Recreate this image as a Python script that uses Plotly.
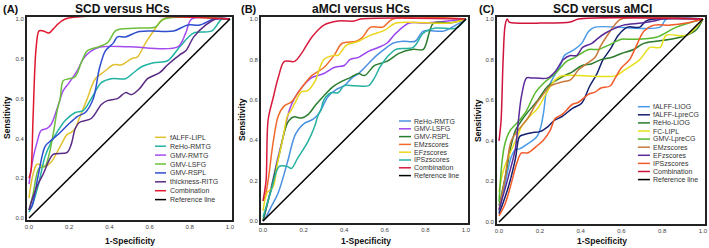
import plotly.graph_objects as go

W, H = 709, 248
FONT = "Liberation Sans, Arial, sans-serif"

# ---------------- Panel A: SCD versus HCs ----------------
A_NAMES = ["fALFF-LIPL", "ReHo-RMTG", "GMV-RMTG", "GMV-LSFG", "GMV-RSPL",
           "thickness-RITG", "Combination", "Reference line"]
A_COLORS = ["#e2c12e", "#22b3a4", "#a34bf0", "#6cbf3a", "#2f4dcf",
            "#5a2a85", "#e0182d", "#000000"]

A_FALFF_FPR = [0, 0.02, 0.04, 0.08, 0.11, 0.15, 0.19, 0.21, 0.23, 0.25, 0.29, 0.33, 0.38, 0.42, 0.46, 0.51, 0.54, 0.58, 0.62, 0.67, 1]
A_FALFF_TPR = [0.10, 0.22, 0.27, 0.26, 0.28, 0.35, 0.42, 0.43, 0.45, 0.50, 0.60, 0.70, 0.74, 0.77, 0.77, 0.80, 0.81, 0.88, 0.94, 1.0, 1.0]

A_REHO_FPR = [0, 0.015, 0.045, 0.08, 0.11, 0.145, 0.18, 0.23, 0.27, 0.31, 0.36, 0.41, 0.48, 0.52, 0.56, 0.62, 0.69, 0.75, 0.82, 0.91, 0.96, 1]
A_REHO_TPR = [0.03, 0.06, 0.16, 0.31, 0.38, 0.44, 0.49, 0.53, 0.54, 0.60, 0.68, 0.70, 0.70, 0.73, 0.76, 0.78, 0.79, 0.86, 0.93, 0.94, 1.0, 1.0]

A_GMVR_FPR = [0, 0.02, 0.04, 0.06, 0.09, 0.11, 0.13, 0.15, 0.17, 0.20, 0.24, 0.27, 0.31, 0.36, 0.5, 0.74, 0.78, 0.81, 1]
A_GMVR_TPR = [0.17, 0.30, 0.38, 0.44, 0.45, 0.47, 0.52, 0.58, 0.64, 0.68, 0.74, 0.80, 0.84, 0.86, 0.86, 0.86, 0.93, 1.0, 1.0]

A_GMVL_FPR = [0, 0.02, 0.05, 0.08, 0.10, 0.12, 0.14, 0.155, 0.17, 0.20, 0.23, 0.26, 0.29, 0.345, 0.39, 0.43, 0.46, 0.55, 0.63, 0.67, 1]
A_GMVL_TPR = [0.04, 0.12, 0.25, 0.26, 0.32, 0.42, 0.54, 0.60, 0.69, 0.70, 0.71, 0.78, 0.84, 0.86, 0.88, 0.94, 0.95, 0.955, 0.96, 1.0, 1.0]

A_GMVS_FPR = [0, 0.015, 0.045, 0.08, 0.11, 0.155, 0.195, 0.24, 0.28, 0.32, 0.35, 0.38, 0.42, 0.44, 0.48, 0.54, 0.60, 0.72, 0.79, 0.85, 0.92, 1]
A_GMVS_TPR = [0.04, 0.06, 0.21, 0.36, 0.39, 0.43, 0.47, 0.51, 0.53, 0.60, 0.75, 0.84, 0.88, 0.91, 0.91, 0.935, 0.94, 0.94, 0.97, 0.97, 1.0, 1.0]

A_THICK_FPR = [0, 0.015, 0.04, 0.07, 0.10, 0.12, 0.19, 0.21, 0.23, 0.25, 0.31, 0.36, 0.39, 0.44, 0.48, 0.51, 0.55, 0.59, 0.65, 0.69, 0.75, 0.78, 0.82, 0.88, 0.93, 1]
A_THICK_TPR = [0.04, 0.09, 0.16, 0.22, 0.29, 0.32, 0.33, 0.37, 0.45, 0.48, 0.50, 0.57, 0.59, 0.60, 0.63, 0.62, 0.65, 0.70, 0.73, 0.77, 0.82, 0.84, 0.91, 0.97, 1.0, 1.0]

A_COMB_FPR = [0, 0.01, 0.02, 0.035, 0.05, 0.07, 0.10, 0.13, 0.18, 1]
A_COMB_TPR = [0.20, 0.24, 0.50, 0.85, 0.94, 0.94, 0.93, 0.96, 1.0, 1.0]

# ---------------- Panel B: aMCI versus HCs ----------------
B_NAMES = ["ReHo-RMTG", "GMV-LSFG", "GMV-RSPL", "EMzscores", "EFzscores",
           "IPSzscores", "Combination", "Reference line"]
B_COLORS = ["#4a90e2", "#9b45f0", "#2a7d2e", "#f26a2a", "#e8d51c",
            "#25b0a0", "#d81b3c", "#000000"]

B_REHO_FPR = [0, 0.015, 0.04, 0.075, 0.12, 0.16, 0.205, 0.24, 0.265, 0.28, 0.32, 0.36, 0.40, 0.44, 0.47, 0.52, 0.56, 0.61, 0.64, 0.69, 0.75, 0.79, 0.89, 0.95, 1]
B_REHO_TPR = [0, 0.02, 0.07, 0.14, 0.29, 0.43, 0.485, 0.50, 0.52, 0.54, 0.615, 0.65, 0.67, 0.71, 0.73, 0.78, 0.82, 0.86, 0.88, 0.89, 0.89, 0.94, 0.94, 0.97, 1.0]

B_GMVL_FPR = [0, 0.03, 0.07, 0.10, 0.13, 0.156, 0.19, 0.24, 0.30, 0.35, 0.40, 0.43, 0.47, 0.52, 0.57, 0.61, 0.655, 0.72, 0.80, 1]
B_GMVL_TPR = [0, 0.12, 0.30, 0.42, 0.55, 0.61, 0.66, 0.71, 0.73, 0.76, 0.77, 0.80, 0.81, 0.84, 0.86, 0.88, 0.93, 0.98, 0.98, 1.0]

B_GMVR_FPR = [0, 0.04, 0.08, 0.12, 0.15, 0.19, 0.22, 0.26, 0.30, 0.345, 0.385, 0.43, 0.47, 0.50, 0.55, 0.61, 0.67, 0.74, 0.79, 0.84, 0.92, 1]
B_GMVR_TPR = [0, 0.16, 0.33, 0.485, 0.515, 0.51, 0.525, 0.575, 0.62, 0.665, 0.69, 0.71, 0.73, 0.72, 0.77, 0.79, 0.83, 0.85, 0.85, 0.98, 0.98, 1.0]

B_EM_FPR = [0, 0.01, 0.025, 0.05, 0.075, 0.105, 0.14, 0.19, 0.24, 0.30, 0.35, 0.39, 0.46, 0.49, 0.53, 0.59, 0.64, 1]
B_EM_TPR = [0.10, 0.12, 0.20, 0.39, 0.52, 0.57, 0.59, 0.66, 0.72, 0.76, 0.82, 0.88, 0.89, 0.91, 0.96, 0.96, 1.0, 1.0]

B_EF_FPR = [0, 0.02, 0.05, 0.07, 0.10, 0.12, 0.14, 0.16, 0.19, 0.22, 0.255, 0.30, 0.35, 0.37, 0.41, 0.47, 0.53, 0.60, 0.655, 0.92, 1]
B_EF_TPR = [0.05, 0.14, 0.17, 0.28, 0.42, 0.52, 0.55, 0.59, 0.64, 0.645, 0.69, 0.80, 0.82, 0.82, 0.87, 0.89, 0.92, 0.945, 0.98, 0.98, 1.0]

B_IPS_FPR = [0, 0.04, 0.08, 0.12, 0.14, 0.17, 0.22, 0.255, 0.27, 0.285, 0.30, 0.335, 0.37, 0.40, 0.45, 0.52, 0.55, 0.575, 0.61, 0.655, 0.74, 0.79, 0.85, 0.95, 1]
B_IPS_TPR = [0.02, 0.15, 0.27, 0.27, 0.26, 0.31, 0.39, 0.47, 0.52, 0.55, 0.60, 0.635, 0.635, 0.67, 0.67, 0.67, 0.71, 0.76, 0.81, 0.85, 0.86, 0.93, 0.955, 0.955, 1.0]

B_COMB_FPR = [0, 0.015, 0.025, 0.05, 0.075, 0.105, 0.155, 0.19, 0.24, 0.30, 0.37, 0.45, 0.48, 1]
B_COMB_TPR = [0.10, 0.20, 0.50, 0.61, 0.71, 0.79, 0.79, 0.83, 0.91, 0.97, 0.99, 0.99, 1.0, 1.0]

# ---------------- Panel C: SCD versus aMCI ----------------
C_NAMES = ["fALFF-LIOG", "fALFF-LpreCG", "ReHo-LIOG", "FC-LIPL", "GMV-LpreCG",
           "EMzscores", "EFzscores", "IPSzscores", "Combination", "Reference line"]
C_COLORS = ["#4a9be8", "#14206e", "#2a7a2a", "#e6e01a", "#55b82d",
            "#c97a3a", "#5b2a9a", "#f25a2a", "#d0143c", "#000000"]

C_FALFFIOG_FPR = [0, 0.03, 0.06, 0.08, 0.10, 0.14, 0.185, 0.205, 0.22, 0.23, 0.245, 0.265, 0.30, 0.32, 0.37, 0.405, 0.44, 0.47, 0.79, 0.82, 1]
C_FALFFIOG_TPR = [0.05, 0.19, 0.32, 0.355, 0.36, 0.385, 0.42, 0.47, 0.55, 0.63, 0.67, 0.71, 0.77, 0.82, 0.85, 0.88, 0.94, 0.96, 0.96, 1.0, 1.0]

C_FALFFPRE_FPR = [0, 0.045, 0.08, 0.10, 0.12, 0.16, 0.20, 0.24, 0.27, 0.31, 0.36, 0.405, 0.445, 0.48, 0.51, 0.545, 0.585, 0.63, 0.69, 0.72, 0.77, 1]
C_FALFFPRE_TPR = [0.04, 0.17, 0.31, 0.42, 0.43, 0.44, 0.445, 0.47, 0.50, 0.52, 0.56, 0.585, 0.67, 0.73, 0.80, 0.85, 0.92, 0.96, 0.96, 0.99, 1.0, 1.0]

C_REHO_FPR = [0, 0.03, 0.06, 0.08, 0.11, 0.14, 0.19, 0.24, 0.31, 0.36, 0.405, 0.455, 0.50, 0.55, 0.60, 0.66, 0.71, 0.84, 0.92, 0.97, 1]
C_REHO_TPR = [0.08, 0.22, 0.38, 0.45, 0.50, 0.54, 0.60, 0.67, 0.715, 0.74, 0.77, 0.78, 0.80, 0.81, 0.83, 0.85, 0.88, 0.90, 0.92, 0.95, 1.0]

C_FC_FPR = [0, 0.02, 0.05, 0.09, 0.11, 0.15, 0.19, 0.235, 0.275, 0.31, 0.57, 0.61, 0.69, 0.74, 0.79, 0.82, 0.92, 1]
C_FC_TPR = [0.15, 0.25, 0.33, 0.42, 0.47, 0.52, 0.56, 0.64, 0.70, 0.72, 0.72, 0.745, 0.80, 0.86, 0.86, 0.92, 0.92, 1.0]

C_GMV_FPR = [0, 0.015, 0.03, 0.054, 0.09, 0.13, 0.18, 0.225, 0.275, 0.33, 0.37, 0.44, 0.485, 0.535, 0.60, 0.65, 0.77, 0.87, 1]
C_GMV_TPR = [0.10, 0.30, 0.39, 0.45, 0.49, 0.54, 0.64, 0.69, 0.73, 0.79, 0.81, 0.85, 0.85, 0.87, 0.90, 0.90, 0.91, 0.96, 1.0]

C_EM_FPR = [0, 0.03, 0.06, 0.10, 0.14, 0.18, 0.21, 0.25, 0.31, 0.35, 0.39, 0.43, 0.47, 0.50, 0.545, 0.575, 0.60, 1]
C_EM_TPR = [0.06, 0.22, 0.40, 0.46, 0.51, 0.58, 0.62, 0.67, 0.69, 0.70, 0.75, 0.78, 0.81, 0.87, 0.94, 0.98, 1.0, 1.0]

C_EF_FPR = [0, 0.045, 0.08, 0.095, 0.11, 0.135, 0.16, 0.24, 0.275, 0.315, 0.35, 0.38, 0.41, 0.455, 0.485, 0.52, 0.57, 0.61, 0.70, 0.76, 0.80, 1]
C_EF_TPR = [0.06, 0.22, 0.36, 0.50, 0.62, 0.71, 0.71, 0.71, 0.74, 0.80, 0.82, 0.82, 0.86, 0.88, 0.905, 0.93, 0.955, 0.97, 0.98, 0.99, 1.0, 1.0]

C_IPS_FPR = [0, 0.03, 0.06, 0.087, 0.11, 0.14, 0.18, 0.215, 0.25, 0.275, 0.31, 0.36, 0.39, 0.44, 0.47, 0.50, 0.545, 0.57, 0.60, 0.64, 0.67, 0.71, 0.76, 0.84, 0.92, 1]
C_IPS_TPR = [0.03, 0.09, 0.19, 0.29, 0.34, 0.34, 0.37, 0.40, 0.45, 0.51, 0.53, 0.58, 0.59, 0.63, 0.64, 0.66, 0.67, 0.71, 0.76, 0.80, 0.86, 0.94, 0.97, 0.97, 0.98, 1.0]

C_COMB_FPR = [0, 0.01, 0.02, 0.03, 0.04, 0.05, 0.08, 0.20, 0.35, 0.39, 1]
C_COMB_TPR = [0.40, 0.50, 0.80, 0.97, 1.0, 0.985, 0.98, 0.98, 0.985, 1.0, 1.0]

REF_FPR = [0, 1]
REF_TPR = [0, 1]

TICKS = [0.0, 0.2, 0.4, 0.6, 0.8, 1.0]
TICK_TEXT = ["0.0", "0.2", "0.4", "0.6", "0.8", "1.0"]

PANELS = [
    dict(tag="(A)", title="SCD versus HCs", names=A_NAMES, colors=A_COLORS,
         curves=[(A_FALFF_FPR, A_FALFF_TPR), (A_REHO_FPR, A_REHO_TPR), (A_GMVR_FPR, A_GMVR_TPR),
                 (A_GMVL_FPR, A_GMVL_TPR), (A_GMVS_FPR, A_GMVS_TPR), (A_THICK_FPR, A_THICK_TPR),
                 (A_COMB_FPR, A_COMB_TPR), (REF_FPR, REF_TPR)]),
    dict(tag="(B)", title="aMCI versus HCs", names=B_NAMES, colors=B_COLORS,
         curves=[(B_REHO_FPR, B_REHO_TPR), (B_GMVL_FPR, B_GMVL_TPR), (B_GMVR_FPR, B_GMVR_TPR),
                 (B_EM_FPR, B_EM_TPR), (B_EF_FPR, B_EF_TPR), (B_IPS_FPR, B_IPS_TPR),
                 (B_COMB_FPR, B_COMB_TPR), (REF_FPR, REF_TPR)]),
    dict(tag="(C)", title="SCD versus aMCI", names=C_NAMES, colors=C_COLORS,
         curves=[(C_FALFFIOG_FPR, C_FALFFIOG_TPR), (C_FALFFPRE_FPR, C_FALFFPRE_TPR), (C_REHO_FPR, C_REHO_TPR),
                 (C_FC_FPR, C_FC_TPR), (C_GMV_FPR, C_GMV_TPR), (C_EM_FPR, C_EM_TPR),
                 (C_EF_FPR, C_EF_TPR), (C_IPS_FPR, C_IPS_TPR), (C_COMB_FPR, C_COMB_TPR),
                 (REF_FPR, REF_TPR)]),
]

# layout geometry (pixels)
XDOM_PX = [(27, 232), (261, 468), (497, 705)]
YDOM_PX = [(17, 220), (17, 223), (17, 224)]
TAG_X = [10.5, 248.5, 486.5]
TITLE_X = [122, 361, 602]
XLAB_X = [130, 366, 602]
YLAB_X = [7, 242, 478]
YLAB_Y = [118, 120, 120]
# legend: symbol start/end, text x (data units), first row y (data), row step (data)
LEG = [
    dict(x0=0.627, x1=0.682, xt=0.692, y0=(218 - 137.3) / 199, dy=8.9 / 199),
    dict(x0=0.670, x1=0.729, xt=0.734, y0=(221 - 121.0) / 202, dy=7.8 / 202),
    dict(x0=0.681, x1=0.740, xt=0.745, y0=(222 - 106.7) / 203, dy=8.1 / 203),
]

fig = go.Figure()
annotations = []
shapes = []
RANGE = [-0.01, 1.01]


def paper_text(text, xpx, ypx, size, angle=0):
    return dict(text=text, x=xpx / W, y=1 - ypx / H, xref="paper", yref="paper",
                xanchor="center", yanchor="middle", showarrow=False, textangle=angle,
                font=dict(size=size, color="#111", family=FONT))


for i, p in enumerate(PANELS):
    sfx = "" if i == 0 else str(i + 1)
    xa, ya = "x" + sfx, "y" + sfx
    for (fx, ty), name, col in zip(p["curves"], p["names"], p["colors"]):
        is_ref = name == "Reference line"
        fig.add_trace(go.Scatter(
            x=fx, y=ty, mode="lines", name=name, showlegend=False,
            xaxis=xa, yaxis=ya,
            line=dict(color=col, width=1.5,
                      shape="linear" if is_ref else "spline", smoothing=0.9),
            hoverinfo="skip"))
    x0p, x1p = XDOM_PX[i]
    y0p, y1p = YDOM_PX[i]
    axcommon = dict(range=RANGE, tickvals=TICKS, ticktext=TICK_TEXT, showgrid=False,
                    zeroline=False, showline=True, linecolor="#222", linewidth=2,
                    mirror=True, ticks="", tickfont=dict(size=6, color="#444", family=FONT),
                    fixedrange=True, automargin=False)
    fig.update_layout(**{
        "xaxis" + sfx: dict(domain=[x0p / W, x1p / W], anchor=ya, **axcommon),
        "yaxis" + sfx: dict(domain=[1 - y1p / H, 1 - y0p / H], anchor=xa, **axcommon),
    })
    annotations.append(paper_text("<b>%s</b>" % p["tag"], TAG_X[i], 8.5, 11))
    annotations.append(paper_text("<b>%s</b>" % p["title"], TITLE_X[i], 8.5, 12))
    annotations.append(paper_text("<b>1-Specificity</b>", XLAB_X[i], 240.7, 8.5))
    annotations.append(paper_text("<b>Sensitivity</b>", YLAB_X[i], YLAB_Y[i], 8.5, -90))
    # legend
    lg = LEG[i]
    for k, (name, col) in enumerate(zip(p["names"], p["colors"])):
        yy = lg["y0"] - k * lg["dy"]
        shapes.append(dict(type="line", xref=xa, yref=ya, x0=lg["x0"], x1=lg["x1"],
                           y0=yy, y1=yy, line=dict(color=col, width=1.5)))
        annotations.append(dict(text=name, x=lg["xt"], y=yy, xref=xa, yref=ya,
                                xanchor="left", yanchor="middle", showarrow=False,
                                font=dict(size=7, color="#333", family=FONT)))

fig.update_layout(width=W, height=H, autosize=False,
                  margin=dict(l=0, r=0, t=0, b=0, pad=0, autoexpand=False),
                  paper_bgcolor="white", plot_bgcolor="white",
                  annotations=annotations, shapes=shapes,
                  font=dict(family=FONT))
fig.write_html("out.html", config={"displayModeBar": False, "staticPlot": True},
               post_script="document.body.style.margin='0px';")
